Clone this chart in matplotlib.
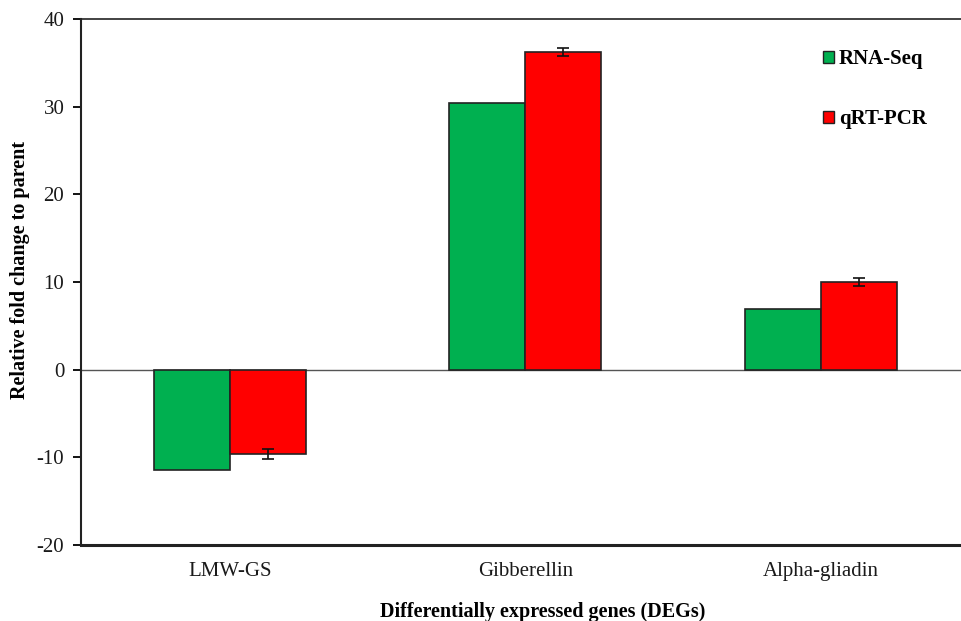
import numpy as np
import matplotlib
matplotlib.use("Agg")
import matplotlib.pyplot as plt
from matplotlib.patches import Patch

genes = ["LMW-GS", "Gibberellin", "Alpha-gliadin"]
rna_seq = [-11.4, 30.4, 6.9]
qrt_pcr = [-9.6, 36.2, 10.0]
qrt_pcr_err = [0.55, 0.45, 0.5]

plt.rcParams["font.family"] = ["Liberation Serif", "DejaVu Serif"]
plt.rcParams["axes.unicode_minus"] = False

fig = plt.figure(figsize=(9.61, 6.21), dpi=100)
ax = fig.add_axes([81 / 961, 1 - 545 / 621, 880 / 961, 526 / 621])

x = np.arange(len(genes))
w = 0.257
ax.bar(x - w / 2, rna_seq, w, color="#00B050", edgecolor="#222222", linewidth=1.2,
       label="RNA-Seq", zorder=3)
ax.bar(x + w / 2, qrt_pcr, w, color="#FF0000", edgecolor="#222222", linewidth=1.2,
       label="qRT-PCR", zorder=3)
ax.errorbar(x + w / 2, qrt_pcr, yerr=qrt_pcr_err, fmt="none", ecolor="#111111",
            elinewidth=1.2, capsize=4, capthick=1.2, zorder=4)

ax.axhline(0, color="#555555", linewidth=1.0, zorder=2)

ax.set_xlim(-0.504, 2.475)
ax.set_ylim(-20, 40)
ax.set_yticks(np.arange(-20, 41, 10))
ax.set_xticks(x)
ax.set_xticklabels(genes)
ax.tick_params(axis="x", length=0, pad=12, labelsize=15, labelcolor="#1a1a1a")
ax.tick_params(axis="y", direction="out", length=6, width=1.3, pad=6, labelsize=15,
               labelcolor="#1a1a1a")

ax.spines["right"].set_visible(False)
ax.spines["top"].set_linewidth(1.2)
ax.spines["left"].set_linewidth(1.5)
ax.spines["bottom"].set_linewidth(2.2)
for s in ax.spines.values():
    s.set_color("#222222")

fig.text(20 / 961, 1 - 270 / 621, "Relative fold change to parent", rotation=90,
         ha="center", va="center", fontsize=14.5, fontweight="bold")
fig.text(543 / 961, 1 - 612 / 621, "Differentially expressed genes (DEGs)",
         ha="center", va="center", fontsize=14.5, fontweight="bold")

handles = [Patch(facecolor="#00B050", edgecolor="#222222", linewidth=1.0),
           Patch(facecolor="#FF0000", edgecolor="#222222", linewidth=1.0)]
leg = ax.legend(handles, ["RNA-Seq", "qRT-PCR"], loc="upper left",
                bbox_to_anchor=(813 / 961, 1 - 39 / 621), bbox_transform=fig.transFigure,
                frameon=False, handlelength=0.5, handleheight=0.5, handletextpad=0.25,
                labelspacing=1.9, borderpad=0, prop={"weight": "bold", "size": 15})

fig.savefig("out.png", dpi=100)
